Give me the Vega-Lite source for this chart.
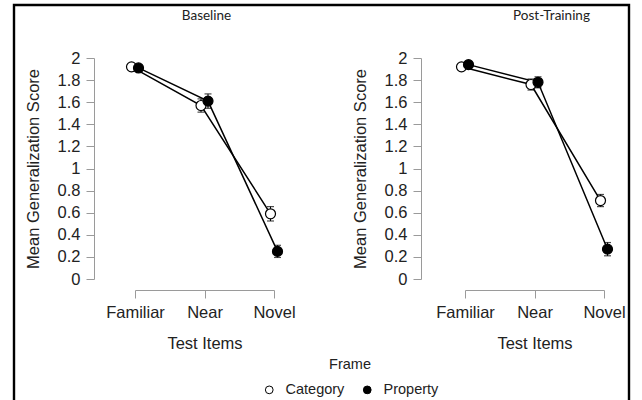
{
  "$schema": "https://vega.github.io/schema/vega-lite/v6.json",
  "width": 615,
  "height": 400,
  "autosize": {"type": "none"},
  "padding": {"left": 14, "top": 5, "right": 3, "bottom": 0},
  "background": "white",
  "config": {
    "view": {"stroke": "black", "strokeWidth": 2.4},
    "font": "Liberation Sans",
    "axis": {
      "grid": false,
      "domainColor": "#9a9a9a",
      "tickColor": "#9a9a9a",
      "tickSize": 8,
      "labelFont": "Liberation Sans",
      "titleFont": "Liberation Sans",
      "labelFontSize": 16.5,
      "titleFontSize": 16.5,
      "labelColor": "#222222",
      "titleColor": "#222222",
      "titleFontWeight": "normal",
      "labelPadding": 6,
      "labelOverlap": false
    }
  },
  "data": {
    "values": [
      {"Phase": "Baseline", "Items": "Familiar", "Frame": "Category", "Mean": 1.92, "Lower": 1.89, "Upper": 1.95},
      {"Phase": "Baseline", "Items": "Near", "Frame": "Category", "Mean": 1.57, "Lower": 1.51, "Upper": 1.63},
      {"Phase": "Baseline", "Items": "Novel", "Frame": "Category", "Mean": 0.59, "Lower": 0.525, "Upper": 0.655},
      {"Phase": "Baseline", "Items": "Familiar", "Frame": "Property", "Mean": 1.91, "Lower": 1.88, "Upper": 1.94},
      {"Phase": "Baseline", "Items": "Near", "Frame": "Property", "Mean": 1.61, "Lower": 1.545, "Upper": 1.675},
      {"Phase": "Baseline", "Items": "Novel", "Frame": "Property", "Mean": 0.25, "Lower": 0.195, "Upper": 0.305},
      {"Phase": "Post-Training", "Items": "Familiar", "Frame": "Category", "Mean": 1.92, "Lower": 1.89, "Upper": 1.95},
      {"Phase": "Post-Training", "Items": "Near", "Frame": "Category", "Mean": 1.76, "Lower": 1.71, "Upper": 1.81},
      {"Phase": "Post-Training", "Items": "Novel", "Frame": "Category", "Mean": 0.71, "Lower": 0.655, "Upper": 0.765},
      {"Phase": "Post-Training", "Items": "Familiar", "Frame": "Property", "Mean": 1.94, "Lower": 1.91, "Upper": 1.97},
      {"Phase": "Post-Training", "Items": "Near", "Frame": "Property", "Mean": 1.78, "Lower": 1.73, "Upper": 1.83},
      {"Phase": "Post-Training", "Items": "Novel", "Frame": "Property", "Mean": 0.27, "Lower": 0.21, "Upper": 0.33}
    ]
  },
  "layer": [
    {
      "transform": [{"filter": "datum.Phase === 'Baseline'"}],
      "encoding": {
        "x": {
          "field": "Items",
          "type": "ordinal",
          "scale": {"type": "point", "domain": ["Familiar", "Near", "Novel"], "range": [121, 260], "padding": 0},
          "axis": {"orient": "bottom", "offset": -115, "title": "Test Items", "labelAngle": 0, "titlePadding": 15}
        }
      },
      "layer": [
        {
          "mark": {"type": "line", "color": "black", "strokeWidth": 1.5, "xOffset": {"expr": "datum.Frame === 'Category' ? -3.5 : 3.5"}},
          "encoding": {
            "y": {
              "field": "Mean",
              "type": "quantitative",
              "scale": {"domain": [0, 2], "range": [274, 53], "nice": false, "zero": false},
              "axis": {"orient": "left", "offset": -80, "title": "Mean Generalization Score", "values": [0, 0.2, 0.4, 0.6, 0.8, 1, 1.2, 1.4, 1.6, 1.8, 2], "tickCount": 12, "format": ".1~f", "titlePadding": 16, "labelOverlap": false}
            },
            "detail": {"field": "Frame"}
          }
        },
        {
          "mark": {"type": "rule", "color": "black", "strokeWidth": 1, "xOffset": {"expr": "datum.Frame === 'Category' ? -3.5 : 3.5"}},
          "encoding": {
            "y": {"field": "Lower", "type": "quantitative"},
            "y2": {"field": "Upper"}
          }
        },
        {
          "mark": {"type": "tick", "color": "black", "size": 7, "thickness": 1.2, "xOffset": {"expr": "datum.Frame === 'Category' ? -3.5 : 3.5"}},
          "encoding": {"y": {"field": "Lower", "type": "quantitative"}}
        },
        {
          "mark": {"type": "tick", "color": "black", "size": 7, "thickness": 1.2, "xOffset": {"expr": "datum.Frame === 'Category' ? -3.5 : 3.5"}},
          "encoding": {"y": {"field": "Upper", "type": "quantitative"}}
        },
        {
          "mark": {"type": "point", "filled": true, "stroke": "black", "strokeWidth": 1.2, "opacity": 1, "size": 100, "shape": "circle", "xOffset": {"expr": "datum.Frame === 'Category' ? -3.5 : 3.5"}},
          "encoding": {
            "y": {"field": "Mean", "type": "quantitative"},
            "fill": {
              "field": "Frame",
              "type": "nominal",
              "scale": {"domain": ["Category", "Property"], "range": ["white", "black"]},
              "legend": {"orient": "none", "legendX": 248, "legendY": 353, "direction": "horizontal", "title": "Frame", "titleOrient": "top", "titleAnchor": "middle", "titleFont": "Liberation Sans", "titleFontSize": 14.5, "titleFontWeight": "normal", "titleColor": "#222222", "labelFont": "Liberation Sans", "labelFontSize": 14.5, "labelColor": "#222222", "symbolType": "circle", "symbolSize": 60, "symbolStrokeColor": "black", "symbolStrokeWidth": 1, "columnPadding": 15, "labelOffset": 9, "titlePadding": 10}
            }
          }
        },
        {
          "data": {"values": [{"Phase": "Baseline"}]},
          "mark": {"type": "text", "font": "Lato", "fontSize": 13.5, "color": "#222222", "baseline": "middle", "align": "center", "dx": 2},
          "encoding": {
            "x": {"datum": "Near", "type": "ordinal"},
            "y": {"datum": 2.38, "type": "quantitative"},
            "text": {"field": "Phase"}
          }
        }
      ]
    },
    {
      "transform": [{"filter": "datum.Phase === 'Post-Training'"}],
      "encoding": {
        "x": {
          "field": "Items",
          "type": "ordinal",
          "scale": {"type": "point", "domain": ["Familiar", "Near", "Novel"], "range": [451, 590], "padding": 0},
          "axis": {"orient": "bottom", "offset": -115, "title": "Test Items", "labelAngle": 0, "titlePadding": 15}
        }
      },
      "layer": [
        {
          "mark": {"type": "line", "color": "black", "strokeWidth": 1.5, "xOffset": {"expr": "datum.Frame === 'Category' ? -3.5 : 3.5"}},
          "encoding": {
            "y": {
              "field": "Mean",
              "type": "quantitative",
              "scale": {"domain": [0, 2], "range": [274, 53], "nice": false, "zero": false},
              "axis": {"orient": "left", "offset": -407, "title": "Mean Generalization Score", "values": [0, 0.2, 0.4, 0.6, 0.8, 1, 1.2, 1.4, 1.6, 1.8, 2], "tickCount": 12, "format": ".1~f", "titlePadding": 16, "labelOverlap": false}
            },
            "detail": {"field": "Frame"}
          }
        },
        {
          "mark": {"type": "rule", "color": "black", "strokeWidth": 1, "xOffset": {"expr": "datum.Frame === 'Category' ? -3.5 : 3.5"}},
          "encoding": {
            "y": {"field": "Lower", "type": "quantitative"},
            "y2": {"field": "Upper"}
          }
        },
        {
          "mark": {"type": "tick", "color": "black", "size": 7, "thickness": 1.2, "xOffset": {"expr": "datum.Frame === 'Category' ? -3.5 : 3.5"}},
          "encoding": {"y": {"field": "Lower", "type": "quantitative"}}
        },
        {
          "mark": {"type": "tick", "color": "black", "size": 7, "thickness": 1.2, "xOffset": {"expr": "datum.Frame === 'Category' ? -3.5 : 3.5"}},
          "encoding": {"y": {"field": "Upper", "type": "quantitative"}}
        },
        {
          "mark": {"type": "point", "filled": true, "stroke": "black", "strokeWidth": 1.2, "opacity": 1, "size": 100, "shape": "circle", "xOffset": {"expr": "datum.Frame === 'Category' ? -3.5 : 3.5"}},
          "encoding": {
            "y": {"field": "Mean", "type": "quantitative"},
            "fill": {
              "field": "Frame",
              "type": "nominal",
              "scale": {"domain": ["Category", "Property"], "range": ["white", "black"]},
              "legend": {"orient": "none", "legendX": 248, "legendY": 353, "direction": "horizontal", "title": "Frame", "titleOrient": "top", "titleAnchor": "middle", "titleFont": "Liberation Sans", "titleFontSize": 14.5, "titleFontWeight": "normal", "titleColor": "#222222", "labelFont": "Liberation Sans", "labelFontSize": 14.5, "labelColor": "#222222", "symbolType": "circle", "symbolSize": 60, "symbolStrokeColor": "black", "symbolStrokeWidth": 1, "columnPadding": 15, "labelOffset": 9, "titlePadding": 10}
            }
          }
        },
        {
          "data": {"values": [{"Phase": "Post-Training"}]},
          "mark": {"type": "text", "font": "Lato", "fontSize": 13.5, "color": "#222222", "baseline": "middle", "align": "center", "dx": 17},
          "encoding": {
            "x": {"datum": "Near", "type": "ordinal"},
            "y": {"datum": 2.38, "type": "quantitative"},
            "text": {"field": "Phase"}
          }
        }
      ]
    }
  ],
  "resolve": {
    "scale": {"x": "independent", "y": "independent", "fill": "shared"},
    "axis": {"x": "independent", "y": "independent"}
  }
}
